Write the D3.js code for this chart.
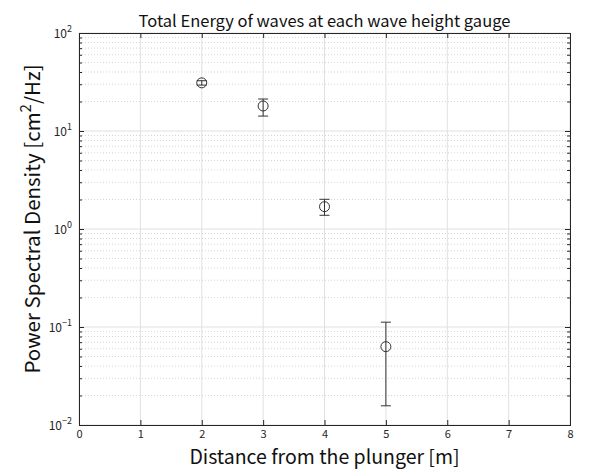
<!DOCTYPE html>
<html>
<head>
<meta charset="utf-8">
<script src="https://cdn.jsdelivr.net/npm/d3@7"></script>
<style>
  body { margin: 0; background: #fff; }
  text { font-family: "Noto Sans CJK JP", "Noto Sans", sans-serif; }
</style>
</head>
<body>
<div id="chart"></div>
<script>
// gauge positions and total energy (mean, upper, lower)
var distance = [2, 3, 4, 5]
var energy = [31, 18, 1.69, 0.063]
var energy_hi = [32.6, 21.2, 2.01, 0.112]
var energy_lo = [29.4, 14.2, 1.38, 0.0157]
var x_ticks = [0, 1, 2, 3, 4, 5, 6, 7, 8]
var y_decades = [-2, -1, 0, 1, 2]

var width = 590, height = 470
var margin = {top: 33, right: 20, bottom: 45, left: 79}
var svg = d3.select("#chart").append("svg").attr("width", width).attr("height", height)

var x = d3.scaleLinear().domain([0, 8]).range([margin.left, width - margin.right])
var y = d3.scaleLog().domain([0.01, 100]).range([height - margin.bottom, margin.top])

var minor = []
for (var d = -2; d < 2; d++){
    for (var k = 2; k <= 9; k++){
        minor.push(k * Math.pow(10, d))
    }
}

// minor grid (dotted)
svg.append("g").selectAll("line").data(minor).enter().append("line")
    .attr("x1", x(0)).attr("x2", x(8))
    .attr("y1", d => y(d)).attr("y2", d => y(d))
    .attr("stroke", "#d4d4d4").attr("stroke-width", 1).attr("stroke-dasharray", "1,2")

// major grid
svg.append("g").selectAll("line").data(y_decades).enter().append("line")
    .attr("x1", x(0)).attr("x2", x(8))
    .attr("y1", d => y(Math.pow(10, d))).attr("y2", d => y(Math.pow(10, d)))
    .attr("stroke", "#e0e0e0").attr("stroke-width", 1)
svg.append("g").selectAll("line").data(x_ticks).enter().append("line")
    .attr("x1", d => x(d)).attr("x2", d => x(d))
    .attr("y1", y(0.01)).attr("y2", y(100))
    .attr("stroke", "#e0e0e0").attr("stroke-width", 1)

// axes with inside ticks
var xAxis = d3.axisBottom(x).tickValues(x_ticks).tickSize(-5).tickPadding(5).tickFormat(d3.format("d"))
var gx = svg.append("g").attr("transform", `translate(0,${y(0.01)})`).call(xAxis)
var gxt = svg.append("g").attr("transform", `translate(0,${y(100)})`).call(d3.axisTop(x).tickValues(x_ticks).tickSize(-5).tickFormat(""))
var gy = svg.append("g").attr("transform", `translate(${x(0)},0)`)
    .call(d3.axisLeft(y).tickValues(y_decades.map(d => Math.pow(10, d))).tickSize(-5).tickFormat(""))
var gyr = svg.append("g").attr("transform", `translate(${x(8)},0)`)
    .call(d3.axisRight(y).tickValues(y_decades.map(d => Math.pow(10, d))).tickSize(-5).tickFormat(""))
var gym = svg.append("g").attr("transform", `translate(${x(0)},0)`)
    .call(d3.axisLeft(y).tickValues(minor).tickSize(-3).tickFormat(""))
var gymr = svg.append("g").attr("transform", `translate(${x(8)},0)`)
    .call(d3.axisRight(y).tickValues(minor).tickSize(-3).tickFormat(""))
svg.selectAll(".domain").attr("stroke", "#262626")
svg.selectAll(".tick line").attr("stroke", "#262626")
gx.selectAll("text").attr("fill", "#262626").style("font-size", "11px")
    .style("font-family", '"Noto Sans CJK JP", sans-serif')

// y tick labels 10^n
y_decades.forEach(function(d){
    var t = svg.append("text").attr("x", x(0) - 7).attr("y", y(Math.pow(10, d)) + 5)
        .attr("text-anchor", "end").attr("fill", "#262626").style("font-size", "12px")
    t.append("tspan").text("10")
    t.append("tspan").attr("dy", -6).style("font-size", "9px").text(d < 0 ? "\u2212" + Math.abs(d) : d)
})

// error bars
var cap = 5
var eb = svg.append("g").attr("stroke", "#333").attr("stroke-width", 1).attr("fill", "none")
distance.forEach(function(dx, i){
    eb.append("line").attr("x1", x(dx)).attr("x2", x(dx)).attr("y1", y(energy_hi[i])).attr("y2", y(energy_lo[i]))
    eb.append("line").attr("x1", x(dx) - cap).attr("x2", x(dx) + cap).attr("y1", y(energy_hi[i])).attr("y2", y(energy_hi[i]))
    eb.append("line").attr("x1", x(dx) - cap).attr("x2", x(dx) + cap).attr("y1", y(energy_lo[i])).attr("y2", y(energy_lo[i]))
})
svg.append("g").selectAll("circle").data(distance).enter().append("circle")
    .attr("cx", d => x(d)).attr("cy", (d, i) => y(energy[i])).attr("r", 5)
    .attr("fill", "none").attr("stroke", "#333").attr("stroke-width", 1)

// title and labels
svg.append("text").attr("x", (x(0) + x(8)) / 2).attr("y", 27).attr("text-anchor", "middle")
    .attr("fill", "#111").style("font-size", "16.5px").text("Total Energy of waves at each wave height gauge")
svg.append("text").attr("x", (x(0) + x(8)) / 2).attr("y", 464).attr("text-anchor", "middle")
    .attr("fill", "#111").style("font-size", "19.5px").text("Distance from the plunger [m]")
var yl = svg.append("text").attr("transform", `translate(40,${(y(0.01) + y(100)) / 2 - 10}) rotate(-90)`)
    .attr("text-anchor", "middle").attr("fill", "#111").style("font-size", "20.5px")
yl.append("tspan").text("Power Spectral Density [cm")
yl.append("tspan").attr("dy", -9).style("font-size", "15px").text("2")
yl.append("tspan").attr("dy", 9).text("/Hz]")
</script>
</body>
</html>
